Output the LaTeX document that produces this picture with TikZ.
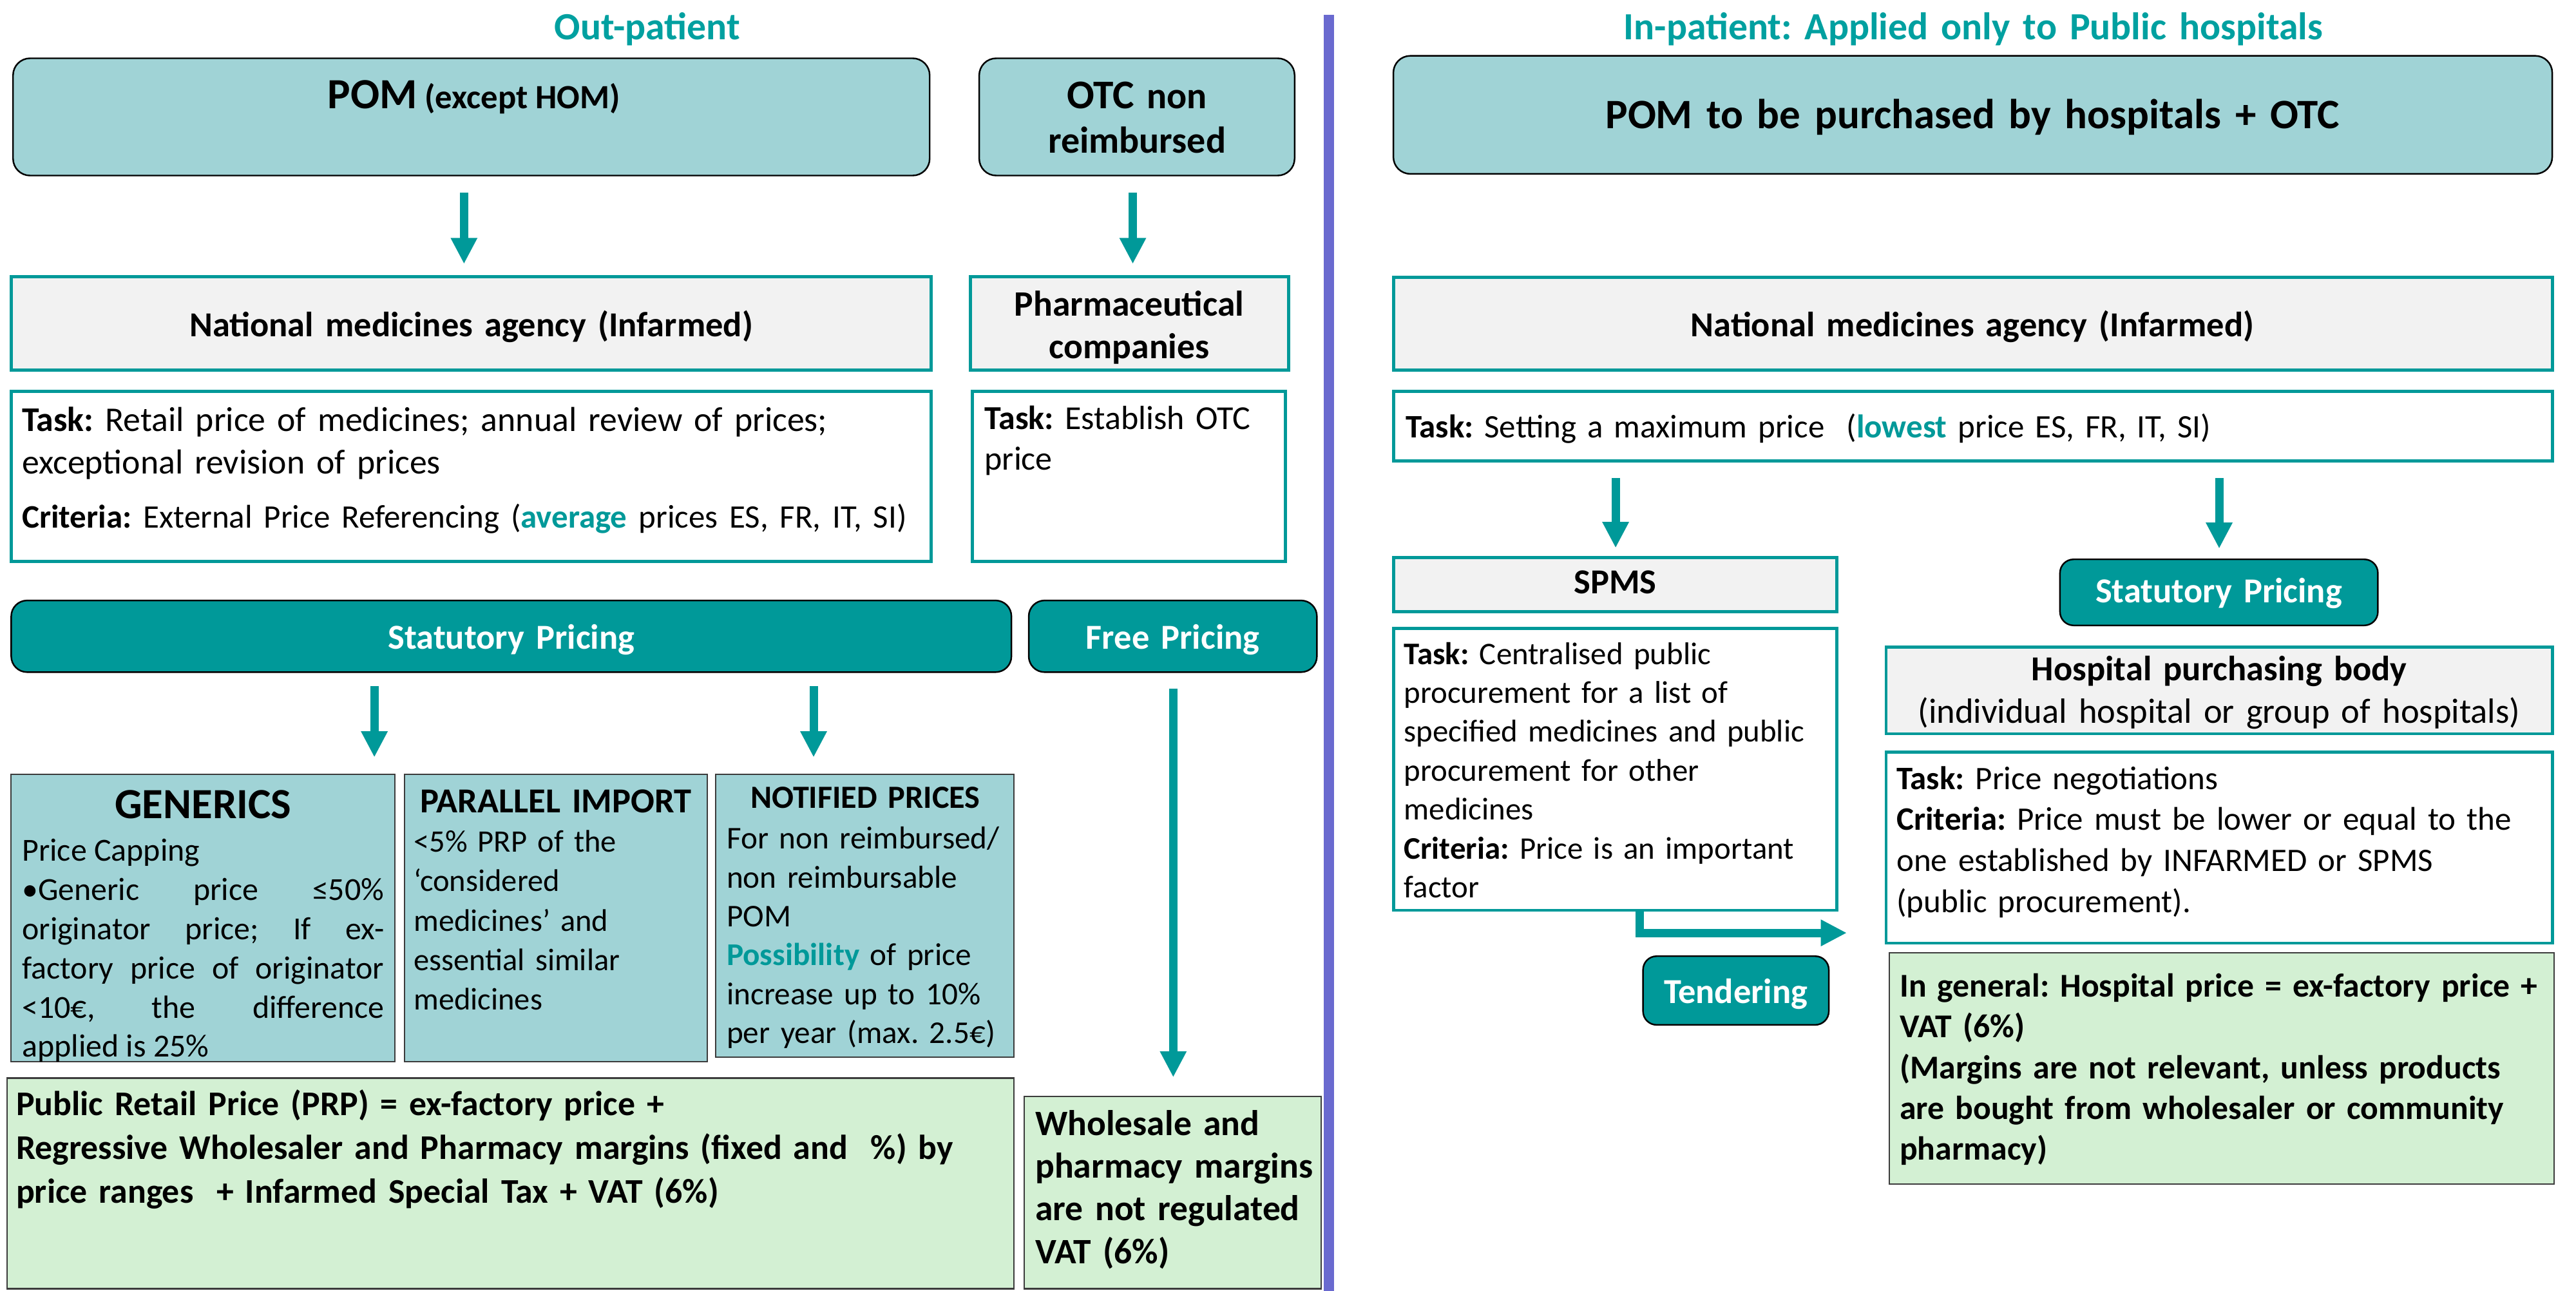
\documentclass[tikz,border=0pt]{standalone}
\usepackage{fontspec}
\setmainfont{Carlito}
\usetikzlibrary{arrows.meta,fit}
\definecolor{tealA}{RGB}{0,153,153}
\definecolor{tealT}{RGB}{0,160,160}
\definecolor{ltealF}{RGB}{160,211,214}
\definecolor{grayF}{RGB}{242,242,242}
\definecolor{greenF}{RGB}{211,240,211}
\definecolor{divC}{RGB}{106,106,207}
\definecolor{bordD}{RGB}{60,60,60}
\newcommand{\fs}[2]{\fontsize{#1}{#2}\selectfont}
\begin{document}
\frenchspacing
\begin{tikzpicture}[x=0.025635cm,y=-0.025635cm,
 rbox/.style={draw=black, line width=0.7pt, fill=ltealF, rounded corners=7.5pt, inner sep=0pt},
 gbox/.style={draw=tealA, line width=1.4pt, fill=grayF, inner sep=0pt},
 wbox/.style={draw=tealA, line width=1.4pt, fill=white, inner sep=0pt},
 tbtn/.style={draw=black, line width=0.7pt, fill=tealA, rounded corners=7pt, inner sep=0pt},
 lbox/.style={draw=bordD, line width=0.6pt, fill=ltealF, inner sep=0pt},
 grbox/.style={draw=bordD, line width=0.6pt, fill=greenF, inner sep=0pt},
 arr/.style={draw=tealA, line width=3.7pt, -{Triangle[width=11pt,length=11.5pt]}},
 tx/.style={inner sep=0pt, anchor=base west, align=left, text width=#1},
 ct/.style={inner sep=0pt, anchor=base, align=center, text width=#1},
]
\useasboundingbox (0,0) rectangle (1560,781.7);
\fill[white] (0,0) rectangle (1560,781.7);

% divider
\draw[divC, line width=4.5pt] (804.7,9) -- (804.7,781.7);

% titles
\node[ct=300pt, font=\fs{17}{20}\bfseries, text=tealT] (tOut) at (392,24) {Out-patient};
\node[ct=400pt, font=\fs{17}{20}\bfseries, text=tealT] (tIn) at (1195,24) {In-patient: Applied only to Public hospitals};

% ---------- left column boxes ----------
\node[rbox, fit={(7.9,35.3)(563,106.3)}] (pomL) {};
\node[rbox, fit={(593,35.3)(784,106.3)}] (otc) {};
\node[gbox, fit={(6.8,167.5)(564,224)}] (natL) {};
\node[gbox, fit={(587.5,167.5)(780.3,224)}] (pharm) {};
\node[wbox, fit={(6.8,237)(564,340)}] (taskL) {};
\node[wbox, fit={(589,237)(778.6,340)}] (taskO) {};
\node[tbtn, rounded corners=7pt, fit={(6.8,363.6)(612.5,407)}] (statL) {};
\node[tbtn, rounded corners=7pt, fit={(623,363.6)(797.5,407)}] (free) {};
\node[lbox, fit={(6.8,469)(239.3,643)}] (gen) {};
\node[lbox, fit={(245,469)(428.3,643)}] (par) {};
\node[lbox, fit={(433.5,469)(614,640)}] (notif) {};
\node[grbox, fit={(4.2,652.8)(614,780.4)}] (prp) {};
\node[grbox, fit={(620.4,664)(800,780.4)}] (whole) {};

% ---------- right column boxes ----------
\node[rbox, fit={(843.8,33.8)(1545.6,105.3)}] (pomR) {};
\node[gbox, fit={(843.8,168)(1545.6,224)}] (natR) {};
\node[wbox, fit={(843.8,237)(1545.6,279)}] (taskR) {};
\node[gbox, fit={(843.8,337.7)(1112.5,370.4)}] (spms) {};
\node[wbox, fit={(843.8,380.6)(1112.5,551.2)}] (spmsT) {};
\node[tbtn, rounded corners=6pt, fit={(1247.5,338.7)(1440,378.7)}] (statR) {};
\node[gbox, fit={(1142.2,391.7)(1545.6,444.3)}] (hosp) {};
\node[wbox, fit={(1142.2,455.4)(1545.6,571.1)}] (taskH) {};
\node[grbox, fit={(1144,577)(1546.7,716.9)}] (greenR) {};
\node[tbtn, rounded corners=6pt, fit={(995,579)(1107.5,620.6)}] (tend) {};

% ---------- arrows ----------
\coordinate (xa1) at (281,0);
\coordinate (xa2) at (686,0);
\coordinate (xa3) at (226.7,0);
\coordinate (xa4) at (492.7,0);
\coordinate (xa5) at (710.5,0);
\coordinate (xa6) at (978.4,0);
\coordinate (xa7) at (1343.9,0);
\coordinate (xe) at (992.8,0);
\coordinate (etip) at (1118.4,564.9);
\draw[arr, shorten <=7.2pt, shorten >=4.9pt] (pomL.south -| xa1) -- (natL.north -| xa1);
\draw[arr, shorten <=7.2pt, shorten >=4.9pt] (otc.south -| xa2) -- (pharm.north -| xa2);
\draw[arr, shorten <=5.8pt, shorten >=7.3pt] (statL.south -| xa3) -- (gen.north -| xa3);
\draw[arr, shorten <=5.8pt, shorten >=7.3pt] (statL.south -| xa4) -- (notif.north -| xa4);
\draw[arr, shorten <=6.9pt, shorten >=8.2pt] (free.south -| xa5) -- (whole.north -| xa5);
\draw[arr, shorten <=6.9pt, shorten >=3.6pt] (taskR.south -| xa6) -- (spms.north -| xa6);
\draw[arr, shorten <=6.9pt, shorten >=4.4pt] (taskR.south -| xa7) -- (statR.north -| xa7);
\draw[arr] (spmsT.south -| xe) |- (etip);

% ---------- left texts ----------
\node[ct=380pt, font=\bfseries] (pomLt) at (287,65.7) {{\fs{19}{22}POM} {\fs{15}{16}(except HOM)}};
\node[ct=130pt, font=\fs{16.5}{19.7}\bfseries] (otct) at (688.6,65.7) {{\fs{18}{19.7}OTC} non\\reimbursed};
\node[ct=380pt, font=\fs{15.5}{18}\bfseries] (natLt) at (285.4,203.7) {National medicines agency (Infarmed)};
\node[ct=135pt, font=\fs{15.8}{18.8}\bfseries] (pharmt) at (683.9,191.3) {Pharmaceutical\\companies};
\node[tx=440pt, font=\fs{15.3}{18.9}] (taskLt) at (13.1,261) {\textbf{Task:} Retail price of medicines; annual review of prices;\\exceptional revision of prices\\[5.1pt]{\fs{14.5}{18.9}\textbf{Criteria:} External Price Referencing (\textcolor{tealA}{\textbf{average}} prices ES, FR, IT, SI)}};
\node[tx=150pt, font=\fs{14.8}{18}] (taskOt) at (596,260) {\textbf{Task:} Establish OTC\\price};
\node[ct=300pt, font=\fs{15.5}{18}\bfseries, text=white] (statLt) at (309.7,393) {Statutory Pricing};
\node[ct=120pt, font=\fs{15.5}{18}\bfseries, text=white] (freet) at (710.3,393) {Free Pricing};

\node[ct=160pt, font=\fs{19}{22}\bfseries] (gentt) at (123,495.5) {GENERICS};
\node[tx=159.9pt, align=justify, font=\fs{14.2}{17.3}] (gent) at (13.1,521.5) {Price Capping\\\mbox{}•Generic price ≤50\%\linebreak originator price; If ex-\linebreak factory price of originator\linebreak <10€, the difference\linebreak applied is 25\%};
\node[ct=130pt, font=\fs{15.5}{18}\bfseries] (partt) at (336.6,492) {PARALLEL IMPORT};
\node[tx=130pt, font=\fs{13.8}{17.4}] (part) at (250.3,516) {<5\% PRP of the\\‘considered\\medicines’ and\\essential similar\\medicines};
\node[ct=130pt, font=\fs{14.3}{17}\bfseries] (nott) at (524,489.2) {NOTIFIED PRICES};
\node[tx=130pt, font=\fs{14}{17.2}] (notb) at (439.8,514) {For non reimbursed/\\non reimbursable\\POM\\\textcolor{tealA}{\textbf{Possibility}} of price\\increase up to 10\%\\per year (max. 2.5€)};

\node[tx=440pt, font=\fs{15.3}{19.3}\bfseries] (prpt) at (9.5,675.5) {Public Retail Price (PRP) = ex-factory price +\\Regressive Wholesaler and Pharmacy margins (fixed and\ \ \%) by\\price ranges\ \ + Infarmed Special Tax + VAT (6\%)};
\node[tx=130pt, font=\fs{15.8}{18.9}\bfseries] (wholet) at (626.7,687.4) {Wholesale and\\pharmacy margins\\are not regulated\\VAT (6\%)};

% ---------- right texts ----------
\node[ct=480pt, font=\fs{18.5}{22}\bfseries] (pomRt) at (1194.5,77.7) {POM to be purchased by hospitals + OTC};
\node[ct=380pt, font=\fs{15.5}{18}\bfseries] (natRt) at (1194.5,203.7) {National medicines agency (Infarmed)};
\node[tx=500pt, font=\fs{14.5}{18}] (taskRt) at (851,265) {\textbf{Task:} Setting a maximum price\ \ (\textcolor{tealA}{\textbf{lowest}} price ES, FR, IT, SI)};
\node[ct=150pt, font=\fs{15.5}{18}\bfseries] (spmst) at (978.2,359.3) {SPMS};
\node[tx=200pt, font=\fs{13.9}{17.2}] (spmsTt) at (850,402.2) {\textbf{Task:} Centralised public\\procurement for a list of\\specified medicines and public\\procurement for other\\medicines\\\textbf{Criteria:} Price is an important\\factor};
\node[ct=130pt, font=\fs{15.5}{18}\bfseries, text=white] (statRt) at (1343.7,365) {Statutory Pricing};
\node[ct=290pt, font=\fs{15.5}{18.7}] (hospt) at (1343.9,412.3) {\textbf{Hospital purchasing body}\\(individual hospital or group of hospitals)};
\node[tx=300pt, font=\fs{14.5}{18.1}] (taskHt) at (1148.3,478) {\textbf{Task:} Price negotiations\\\textbf{Criteria:} Price must be lower or equal to the\\one established by INFARMED or SPMS\\(public procurement).};
\node[tx=310pt, font=\fs{14.7}{18}\bfseries] (greenRt) at (1150.2,603.7) {In general: Hospital price = ex-factory price +\\VAT (6\%)\\(Margins are not relevant, unless products\\are bought from wholesaler or community\\pharmacy)};
\node[ct=80pt, font=\fs{15.5}{18}\bfseries, text=white] (tendt) at (1051.2,607.5) {Tendering};
\end{tikzpicture}
\end{document}
